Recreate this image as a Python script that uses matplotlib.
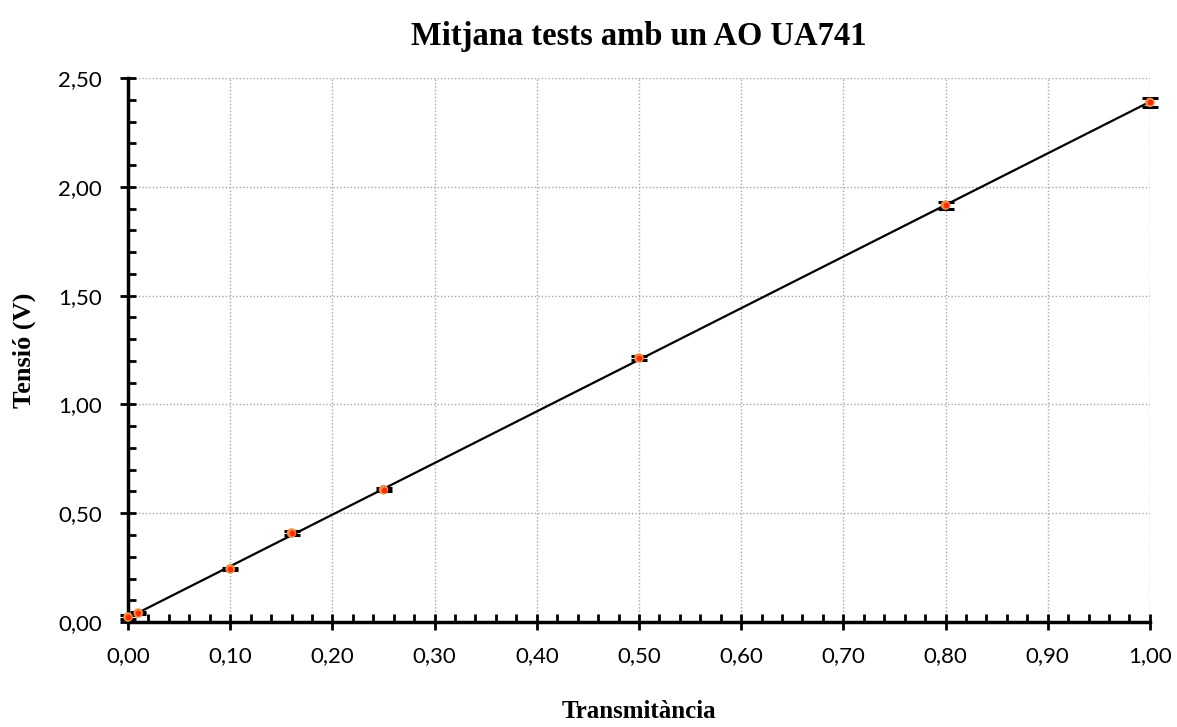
import matplotlib
matplotlib.use("Agg")
import matplotlib.pyplot as plt
import numpy as np
from matplotlib.ticker import MultipleLocator, FuncFormatter

x_vals = [0.0, 0.01, 0.10, 0.16, 0.25, 0.50, 0.80, 1.00]
y_vals = [0.023, 0.041, 0.244, 0.409, 0.608, 1.213, 1.916, 2.388]
y_err = [0.010, 0.005, 0.006, 0.010, 0.006, 0.010, 0.016, 0.020]

title = "Mitjana tests amb un AO UA741"
xlabel = "Transmitància"
ylabel = "Tensió (V)"

fig = plt.figure(figsize=(11.77, 7.27), dpi=100)
ax = fig.add_axes([0.1088, 0.1444, 0.977 - 0.1088, 0.8927 - 0.1444])

x = np.array(x_vals)
y = np.array(y_vals)
coef = np.polyfit(x, y, 1)
xf = np.array([0.0, 1.0])
ax.plot(xf, np.polyval(coef, xf), color="black", lw=1.6, zorder=3)

ax.errorbar(x, y, yerr=y_err, fmt="none", ecolor="black", elinewidth=1.5,
            capsize=6, capthick=2.2, zorder=4, clip_on=False)
ax.scatter(x, y, s=48, color="#F08A3C", edgecolors="none", zorder=8, clip_on=False)
ax.scatter(x, y, s=9, color="#FF2A00", zorder=9, clip_on=False)

ax.set_xlim(0, 1.0)
ax.set_ylim(0, 2.5)
ax.xaxis.set_major_locator(MultipleLocator(0.1))
ax.xaxis.set_minor_locator(MultipleLocator(0.02))
ax.yaxis.set_major_locator(MultipleLocator(0.5))
ax.yaxis.set_minor_locator(MultipleLocator(0.1))
fmt = FuncFormatter(lambda v, p: f"{v:.2f}".replace(".", ","))
ax.xaxis.set_major_formatter(fmt)
ax.yaxis.set_major_formatter(fmt)

ax.grid(True, which="major", color="#A8A8A8", linestyle=(0, (1, 1.5)), lw=1.0, zorder=0)
for s in ["top", "right"]:
    ax.spines[s].set_visible(False)
for s in ["left", "bottom"]:
    ax.spines[s].set_linewidth(2.5)
    ax.spines[s].set_zorder(6)
ax.tick_params(which="major", direction="inout", length=12, width=2.0, labelsize=16)
ax.tick_params(axis="x", which="major", pad=11)
ax.tick_params(axis="y", which="major", pad=13)
ax.tick_params(which="minor", direction="in", length=6, width=2.0)
for lab in ax.get_xticklabels() + ax.get_yticklabels():
    lab.set_fontfamily("Lato")

ax.set_title(title, fontsize=23.5, fontweight="bold", family="Liberation Serif", pad=24)
ax.set_xlabel(xlabel, fontsize=18, fontweight="bold", family="Liberation Serif", labelpad=25)
ax.set_ylabel(ylabel, fontsize=19, fontweight="bold", family="Liberation Serif", labelpad=16)

fig.savefig("out.png", dpi=100)
